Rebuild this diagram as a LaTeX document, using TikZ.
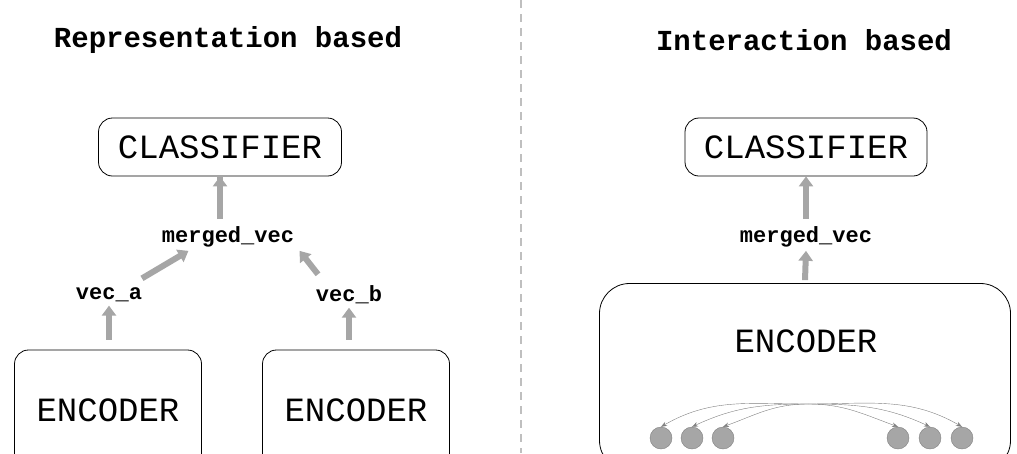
\documentclass[tikz,border=0pt]{standalone}
\usepackage{fontspec}
\setmonofont{Liberation Mono}
\usetikzlibrary{arrows.meta, positioning, calc}

\begin{document}
\begin{tikzpicture}[x=1pt, y=-1pt]
    \tikzstyle{title} = [font=\ttfamily\bfseries\fontsize{29}{30}\selectfont]
    \tikzstyle{block} = [rectangle, rounded corners=14pt, draw=black, thick, font=\ttfamily\fontsize{34}{36}\selectfont]
    \tikzstyle{vec} = [font=\ttfamily\bfseries\fontsize{22}{24}\selectfont]
    \tikzstyle{fat} = [line width=6pt, gray!70, -{Triangle[length=10pt, width=14pt]}]
    \tikzstyle{token} = [circle, minimum size=22pt, inner sep=0pt, draw=gray, fill=gray!70]
    \tikzstyle{link} = [gray, -{Stealth[length=6pt]}]
    \useasboundingbox (0,0) rectangle (1017,453);
    \draw [gray!50, line width=2pt, dash pattern=on 8pt off 6pt] (521,0) -- (521,453);
    % representation based
    \node (reptitle) [title] at (228,40) {Representation based};
    \node (repclf) [block, minimum width=243pt, minimum height=58pt] at (220,147) {CLASSIFIER};
    \node (repmerged) [vec] at (228,237) {merged\_vec};
    \node (veca) [vec] at (109,295) {vec\_a};
    \node (vecb) [vec] at (349,295) {vec\_b};
    \node (enca) [block, minimum width=187pt, minimum height=120pt] at (108,410) {ENCODER};
    \node (encb) [block, minimum width=187pt, minimum height=120pt] at (356,410) {ENCODER};
    \draw [fat] (repmerged.north -| repclf) ++(0,-4) -- (repclf.south) ++(0,0);
    \draw [fat] ($(veca.north)+(33,-6)$) -- ($(repmerged.south west)+(30,0)$);
    \draw [fat] ($(vecb.north)+(-31,-8)$) -- ($(repmerged.south east)+(2,0)$);
    \draw [fat] ($(veca |- enca.north)+(0,-10)$) -- (veca.south);
    \draw [fat] ($(vecb |- encb.north)+(0,-10)$) -- (vecb.south);
    % interaction based
    \node (inttitle) [title] at (804,40) {Interaction based};
    \node (intclf) [block, minimum width=242pt, minimum height=58pt] at (806,147) {CLASSIFIER};
    \node (intmerged) [vec] at (806,237) {merged\_vec};
    \node (intenc) [block, rounded corners=30pt, minimum width=411pt, minimum height=187pt] at (805,377) {};
    \node (enclabel) [font=\ttfamily\fontsize{34}{36}\selectfont] at (806,341) {ENCODER};
    \draw [fat] ($(intmerged.north)+(0,-4)$) -- (intclf.south);
    \draw [fat] ($(intenc.north)+(0,-3)$) -- (intmerged.south);
    \coordinate (hub) at (808,404);
    \foreach \name/\x in {t1/661, t2/692, t3/723, t4/898, t5/930, t6/962} {
        \node (\name) [token] at (\x,438) {};
    }
    \foreach \name/\ang in {t1/30, t2/25, t3/20} {
        \draw [link] (hub) to [out=180, in=\ang] (\name.north);
    }
    \foreach \name/\ang in {t4/160, t5/155, t6/150} {
        \draw [link] (hub) to [out=0, in=\ang] (\name.north);
    }
\end{tikzpicture}
\end{document}
